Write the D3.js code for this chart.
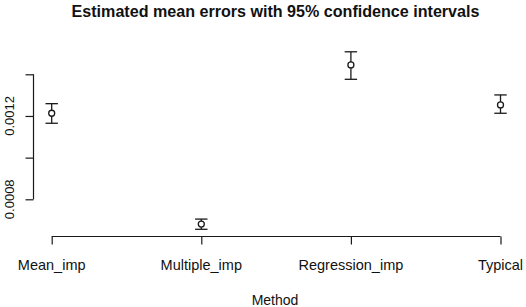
<!DOCTYPE html>
<html>
<head>
<meta charset="utf-8">
<script src="https://cdn.jsdelivr.net/npm/d3@7"></script>
<style>
  body { margin: 0; background: #fff; }
  text { font-family: "Liberation Sans", Arial, sans-serif; fill: #111; }
</style>
</head>
<body>
<div id="chart"></div>
<script>
// Data
const methods = ["Mean_imp", "Multiple_imp", "Regression_imp", "Typical"];
const means = [0.001213, 0.000681, 0.001445, 0.001253];
const lower = [0.001165, 0.000656, 0.001376, 0.001213];
const upper = [0.001259, 0.000705, 0.001508, 0.001301];
const yTicks = [0.0008, 0.0010, 0.0012, 0.0014];
const yLabelled = [0.0008, 0.0012];  // R drops labels that would overlap

const width = 526, height = 307;
const ink = "#1a1a1a";

const svg = d3.select("#chart").append("svg")
    .attr("width", width)
    .attr("height", height);

// Scales
let x = d3.scalePoint()
    .domain(methods)
    .range([51.7, 500.5]);

let y = d3.scaleLinear()
    .domain([0.0008, 0.0014])
    .range([199.3, 74.3]);

// Y axis (R style: line only spans the ticks)
const yAxis = svg.append("g")
    .attr("transform", "translate(33.5,0)")
    .call(d3.axisLeft(y).tickValues(yTicks).tickSize(8).tickFormat(""));
yAxis.select(".domain")
    .attr("d", `M0,${y(yTicks[0])}V${y(yTicks[yTicks.length - 1])}`);
yAxis.selectAll("path, line").attr("stroke", ink).attr("stroke-width", 1.2);

svg.append("g").selectAll("text")
    .data(yLabelled)
    .join("text")
    .attr("transform", d => `translate(13.5,${y(d)}) rotate(-90)`)
    .attr("text-anchor", "middle")
    .style("font-size", "13px")
    .text(d => d.toFixed(4));

// X axis
const xAxis = svg.append("g")
    .attr("transform", "translate(0,236.5)")
    .call(d3.axisBottom(x).tickSize(8).tickFormat(""));
xAxis.select(".domain")
    .attr("d", `M${x(methods[0])},0H${x(methods[methods.length - 1])}`);
xAxis.selectAll("path, line").attr("stroke", ink).attr("stroke-width", 1.2);

svg.append("g").selectAll("text")
    .data(methods)
    .join("text")
    .attr("x", d => x(d))
    .attr("y", 270)
    .attr("text-anchor", "middle")
    .style("font-size", "14.5px")
    .text(d => d);

// Axis title
svg.append("text")
    .attr("x", 275)
    .attr("y", 305)
    .attr("text-anchor", "middle")
    .style("font-size", "14px")
    .text("Method");

// Chart title
svg.append("text")
    .attr("x", 275.5)
    .attr("y", 17)
    .attr("text-anchor", "middle")
    .style("font-size", "16.1px")
    .style("font-weight", "bold")
    .text("Estimated mean errors with 95% confidence intervals");

// Error bars
const rows = methods.map((m, i) => ({ m, mean: means[i], lo: lower[i], hi: upper[i] }));
const capHalf = 6.2;

const bars = svg.append("g")
    .attr("stroke", ink)
    .attr("stroke-width", 1.3)
    .attr("fill", "none")
    .selectAll("g")
    .data(rows)
    .join("g");

bars.append("line")
    .attr("x1", d => x(d.m)).attr("x2", d => x(d.m))
    .attr("y1", d => y(d.lo)).attr("y2", d => y(d.hi));

bars.append("line")
    .attr("x1", d => x(d.m) - capHalf).attr("x2", d => x(d.m) + capHalf)
    .attr("y1", d => y(d.hi)).attr("y2", d => y(d.hi));

bars.append("line")
    .attr("x1", d => x(d.m) - capHalf).attr("x2", d => x(d.m) + capHalf)
    .attr("y1", d => y(d.lo)).attr("y2", d => y(d.lo));

bars.append("circle")
    .attr("cx", d => x(d.m))
    .attr("cy", d => y(d.mean))
    .attr("r", 3)
    .attr("fill", "#fff");
</script>
</body>
</html>
